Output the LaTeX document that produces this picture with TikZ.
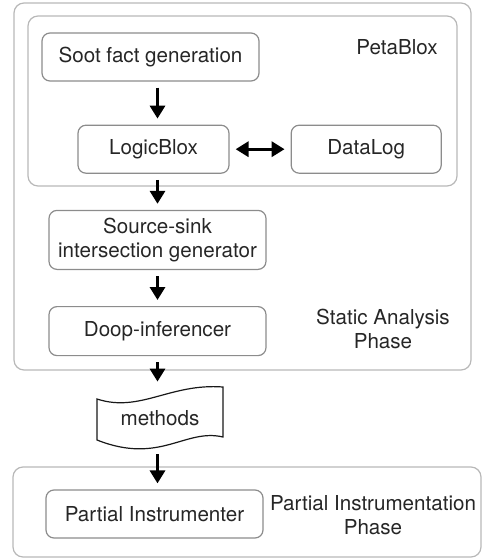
\documentclass[tikz,border=0pt]{standalone}
\usepackage{fontspec}
\setmainfont{TeX Gyre Heros}
\usetikzlibrary{arrows.meta,positioning}

\begin{document}
\begin{tikzpicture}[
        x=0.5pt,y=-0.5pt,
        every node/.style={font=\fontsize{10.3}{12.3}\selectfont,text=black!85},
        task/.style={
          draw=black!45,line width=0.6pt,
          text centered,
          rounded corners=4pt,
          inner sep=0pt,
          minimum width=108.5pt,
          minimum height=24pt
        },
        phase/.style={draw=black!28,line width=0.6pt,rounded corners=5pt},
        flow/.style={line width=1.7pt,shorten <=3pt,shorten >=3pt,
          >={Triangle[width=7.5pt,length=6.5pt]}},
      ]
      \useasboundingbox (0,0) rectangle (482,558);

      % phases
      \draw[phase] (14,3) rectangle (471,370);
      \draw[phase] (28,16) rectangle (457,186);
      \draw[phase] (13,467) rectangle (481,557);

      \node[task] (soot) at (150.5,57) {Soot fact generation};
      \node[task,minimum width=75.5pt,below=21.5pt of soot,xshift=1.5pt] (logicblox) {LogicBlox};
      \node[task,minimum width=75pt,right=30.5pt of logicblox] (datalog) {DataLog};
      \node[task,minimum height=29.5pt,align=center,below=18pt of logicblox,xshift=2pt] (sourcesink) {
        Source-sink\\intersection generator
      };
      \node[task,minimum height=24.5pt,below=18pt of sourcesink] (doop) {Doop-inferencer};
      \node[minimum width=63pt,minimum height=30pt,inner sep=0pt] (methods) at (160,418) {methods};
      \node[task,below=20.5pt of methods,xshift=-2.75pt] (instrumenter) {Partial Instrumenter};

      % document outline of the methods list
      \draw[line width=0.6pt,black!90]
        (97,399) .. controls (140,413) and (170,383) .. (223,387)
        -- (223,437)
        .. controls (185,428) and (160,465) .. (97,440) -- cycle;

      \node (petablox) at (397,47) {PetaBlox};
      \node[align=center] (static) at (383,329) {Static Analysis\\Phase};
      \node[align=center] (partial) at (373,515) {Partial Instrumentation\\Phase};

      \draw[flow,->] (soot.south -| doop) -- (logicblox.north -| doop);
      \draw[flow,<->] (logicblox) -- (datalog);
      \draw[flow,->] (logicblox.south -| doop) -- (sourcesink.north -| doop);
      \draw[flow,->] (sourcesink.south -| doop) -- (doop.north);
      \draw[flow,->] (doop.south) -- (methods.north -| doop);
      \draw[flow,->] (methods.south -| doop) -- (instrumenter.north -| doop);
    \end{tikzpicture}
\end{document}
